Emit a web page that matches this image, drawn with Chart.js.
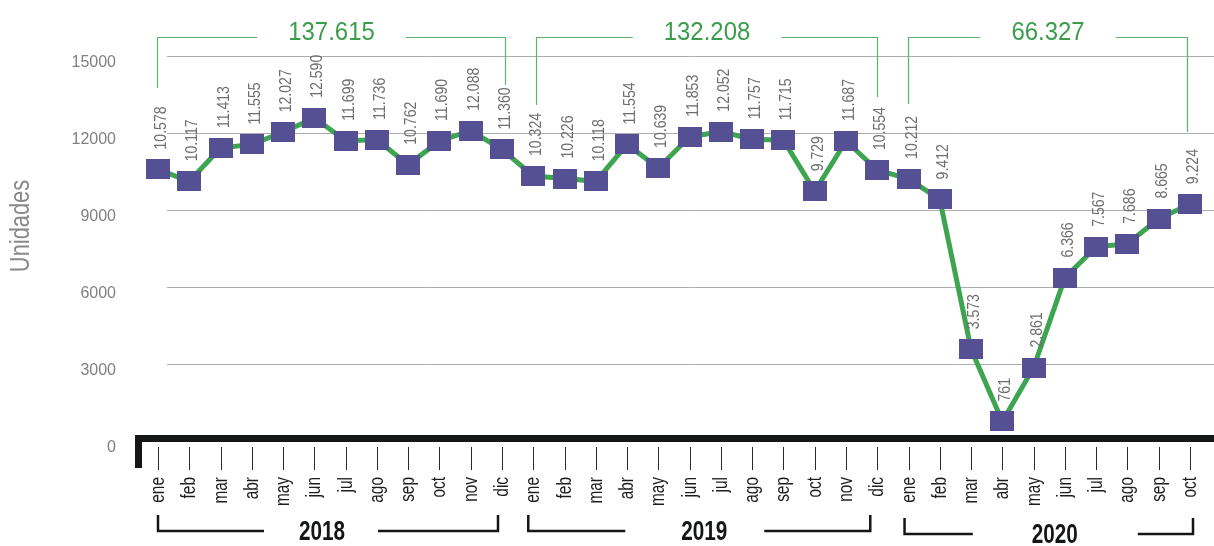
<!DOCTYPE html>
<html lang="es">
<head>
<meta charset="utf-8">
<title>Unidades mensuales 2018-2020</title>
<script src="https://cdn.jsdelivr.net/npm/chart.js@4.4.1/dist/chart.umd.min.js"></script>
<style>
  html, body { margin: 0; padding: 0; background: #fff; }
  canvas { display: block; }
</style>
</head>
<body>
<canvas id="chart" width="1214" height="546"></canvas>
<script>
// Data
const months = ['ene', 'feb', 'mar', 'abr', 'may', 'jun', 'jul', 'ago', 'sep', 'oct', 'nov', 'dic'];
const years = ['2018', '2019', '2020'];
const units2018 = [10578, 10117, 11413, 11555, 12027, 12590, 11699, 11736, 10762, 11690, 12088, 11360];
const units2019 = [10324, 10226, 10118, 11554, 10639, 11853, 12052, 11757, 11715, 9729, 11687, 10554];
const units2020 = [10212, 9412, 3573, 761, 2861, 6366, 7567, 7686, 8665, 9224];
const yTicks = [0, 3000, 6000, 9000, 12000, 15000];

const unitsByYear = [units2018, units2019, units2020];
const monthLabels = unitsByYear.flatMap(arr => months.slice(0, arr.length));
const units = unitsByYear.flat();

// index ranges of each year on the x axis
let start = 0;
const yearSpans = unitsByYear.map(arr => {
    const span = [start, start + arr.length - 1];
    start += arr.length;
    return span;
});
const yearTotals = unitsByYear.map(arr => arr.reduce((a, b) => a + b, 0));

const fmt = n => String(n).replace(/\B(?=(\d{3})+(?!\d))/g, '.');
const FONT = "'Liberation Sans', Arial, sans-serif";

// purple marker, a little wider than tall
const marker = document.createElement('canvas');
marker.width = 24;
marker.height = 20;
const mctx = marker.getContext('2d');
mctx.fillStyle = '#555093';
mctx.fillRect(0, 0, 24, 20);

// draws text with a rotation and a squeeze along the text direction
function drawText(ctx, text, x, y, angle, sx, dy) {
    ctx.save();
    ctx.translate(x, y);
    ctx.rotate(angle);
    ctx.scale(sx, 1);
    ctx.fillText(text, 0, dy || 0);
    ctx.restore();
}

const decor = {
    id: 'decor',
    beforeDatasetsDraw(chart) {
        const { ctx, scales: { x, y } } = chart;
        const W = chart.width;
        const base = y.getPixelForValue(0);
        ctx.save();

        // horizontal grid lines
        ctx.strokeStyle = '#adadad';
        ctx.lineWidth = 1;
        yTicks.forEach(v => {
            if (!v) return;
            const py = Math.round(y.getPixelForValue(v)) + 0.5;
            ctx.beginPath();
            ctx.moveTo(167, py);
            ctx.lineTo(W, py);
            ctx.stroke();
        });

        // thick base line with its left foot
        ctx.fillStyle = '#141617';
        ctx.fillRect(135, base - 6, W - 135, 7);
        ctx.fillRect(135, base - 6, 7, 33);

        // month tick marks and labels
        ctx.strokeStyle = '#2a2a2a';
        ctx.fillStyle = '#1c1c1c';
        ctx.font = '300 20px ' + FONT;
        ctx.textAlign = 'right';
        ctx.textBaseline = 'alphabetic';
        monthLabels.forEach((m, i) => {
            const px = Math.round(x.getPixelForValue(i)) + 0.5;
            ctx.beginPath();
            ctx.moveTo(px, base + 6);
            ctx.lineTo(px, base + 29);
            ctx.stroke();
            drawText(ctx, m, px, base + 36, -Math.PI / 2, 0.77, 5);
        });

        // year brackets under the months
        ctx.strokeStyle = '#141617';
        ctx.lineWidth = 2.5;
        ctx.fillStyle = '#141617';
        ctx.font = 'bold 28px ' + FONT;
        ctx.textAlign = 'center';
        const ends = [[0, -4], [-5, -7], [-4, 3]];
        const shift = [-6, 5, 6];
        const gaps = [[58, 56], [79, 60], [82, 83]];
        const drop = [0, 0, 3];
        yearSpans.forEach(([a, b], k) => {
            const x0 = x.getPixelForValue(a) + ends[k][0];
            const x1 = x.getPixelForValue(b) + ends[k][1];
            const cx = (x0 + x1) / 2 + shift[k];
            const top = 515 + drop[k];
            const low = 531 + drop[k];
            ctx.beginPath();
            ctx.moveTo(x0, top);
            ctx.lineTo(x0, low);
            ctx.lineTo(cx - gaps[k][0], low);
            ctx.moveTo(cx + gaps[k][1], low);
            ctx.lineTo(x1, low);
            ctx.lineTo(x1, top);
            ctx.stroke();
            drawText(ctx, years[k], cx, 540 + drop[k], 0, 0.74);
        });

        // axis title
        ctx.fillStyle = '#8a8a8a';
        ctx.font = '300 28px ' + FONT;
        ctx.textAlign = 'center';
        drawText(ctx, 'Unidades', 29, 226, -Math.PI / 2, 0.78);

        ctx.restore();
    },
    afterDatasetsDraw(chart) {
        const { ctx, scales: { x, y } } = chart;
        ctx.save();

        // value labels above each point
        ctx.fillStyle = '#6e6e6e';
        ctx.font = '300 16px ' + FONT;
        ctx.textAlign = 'left';
        ctx.textBaseline = 'alphabetic';
        units.forEach((v, i) => {
            const px = x.getPixelForValue(i);
            const py = y.getPixelForValue(v);
            drawText(ctx, fmt(v), px, py - 20, -Math.PI / 2, 0.88, 8);
        });

        // yearly totals with green brackets
        const inset = [[-1, 3], [3, 0], [-1, -3]];
        const drops = [[88, 85], [105, 97], [104, 132]];
        ctx.font = '300 26px ' + FONT;
        ctx.textAlign = 'center';
        yearSpans.forEach(([a, b], k) => {
            const x0 = Math.round(x.getPixelForValue(a) + inset[k][0]) + 0.5;
            const x1 = Math.round(x.getPixelForValue(b) + inset[k][1]) + 0.5;
            const cx = (x0 + x1) / 2;
            const label = fmt(yearTotals[k]);
            const half = ctx.measureText(label).width * 0.92 / 2 + 31;
            ctx.strokeStyle = '#5cb56b';
            ctx.lineWidth = 1.2;
            ctx.beginPath();
            ctx.moveTo(x0, drops[k][0]);
            ctx.lineTo(x0, 37.5);
            ctx.lineTo(cx - half, 37.5);
            ctx.moveTo(cx + half, 37.5);
            ctx.lineTo(x1, 37.5);
            ctx.lineTo(x1, drops[k][1]);
            ctx.stroke();
            ctx.fillStyle = '#3b9d4b';
            drawText(ctx, label, cx, 40, 0, 0.92);
        });

        ctx.restore();
    }
};

new Chart(document.getElementById('chart'), {
    type: 'line',
    data: {
        labels: monthLabels,
        datasets: [{
            label: 'Unidades',
            data: units,
            borderColor: '#3da450',
            borderWidth: 5,
            backgroundColor: '#555093',
            pointStyle: marker,
            pointRadius: 12,
            pointHoverRadius: 12,
            tension: 0,
            clip: false
        }]
    },
    options: {
        responsive: false,
        animation: false,
        layout: { padding: { top: 56, right: 24, left: 0, bottom: 0 } },
        plugins: {
            legend: { display: false },
            tooltip: { enabled: false }
        },
        scales: {
            x: {
                grid: { display: false, drawTicks: false },
                border: { display: false },
                ticks: { display: false, autoSkip: false },
                afterFit: s => { s.height = 105; }
            },
            y: {
                min: 0,
                max: 15000,
                afterBuildTicks: s => { s.ticks = yTicks.map(v => ({ value: v })); },
                grid: { display: false, drawTicks: false },
                border: { display: false },
                ticks: {
                    padding: 42,
                    labelOffset: 7,
                    color: '#808080',
                    font: { family: FONT, size: 16 },
                    callback: v => String(v)
                },
                afterFit: s => { s.width = 158; }
            }
        }
    },
    plugins: [decor]
});
</script>
</body>
</html>
